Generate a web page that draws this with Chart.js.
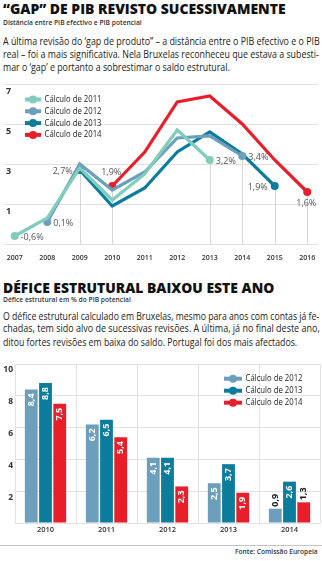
<!DOCTYPE html>
<html lang="pt">
<head>
<meta charset="utf-8">
<script src="https://cdn.jsdelivr.net/npm/chart.js@4.4.0/dist/chart.umd.min.js"></script>
<style>
  html, body { margin: 0; padding: 0; background: #fff; }
  body { width: 322px; height: 561px; position: relative; overflow: hidden; font-family: "Open Sans", sans-serif; color: #1a1a1a; }
  .fit { position: absolute; left: 3px; white-space: nowrap; line-height: 1; transform-origin: 0 0; }
  .title { font-weight: 800; font-size: 14.5px; color: #111; }
  .sub { font-weight: 600; font-size: 7px; color: #333; }
  .txt { font-size: 11px; color: #222; }
  .src { font-weight: 600; font-size: 7.5px; color: #333; }
  #gapWrap { position: absolute; left: 0; top: 80px; width: 322px; height: 180px; }
  #defWrap { position: absolute; left: 0; top: 356px; width: 322px; height: 184px; }
  .rule { position: absolute; left: 0; top: 545px; width: 322px; height: 1px; background: #c4c4c4; }
</style>
</head>
<body>

<div class="fit title" style="top:2.2px" data-w="283">“GAP” DE PIB REVISTO SUCESSIVAMENTE</div>
<div class="fit sub" style="top:18.8px" data-w="139">Distância entre PIB efectivo e PIB potencial</div>
<div class="fit txt" style="top:34.5px" data-w="317">A última revisão do ‘gap de produto” – a distância entre o PIB efectivo e o PIB</div>
<div class="fit txt" style="top:47.9px" data-w="316">real – foi a mais significativa. Nela Bruxelas reconheceu que estava a subesti-</div>
<div class="fit txt" style="top:61.2px" data-w="227">mar o ‘gap’ e portanto a sobrestimar o saldo estrutural.</div>

<div id="gapWrap"><canvas id="gapChart"></canvas></div>

<div class="fit title" style="top:281.2px" data-w="271">DÉFICE ESTRUTURAL BAIXOU ESTE ANO</div>
<div class="fit sub" style="top:296.4px" data-w="128">Défice estrutural em % do PIB potencial</div>
<div class="fit txt" style="top:309.5px" data-w="316">O défice estrutural calculado em Bruxelas, mesmo para anos com contas já fe-</div>
<div class="fit txt" style="top:322.2px" data-w="317">chadas, tem sido alvo de sucessivas revisões. A última, já no final deste ano,</div>
<div class="fit txt" style="top:335.5px" data-w="294">ditou fortes revisões em baixa do saldo. Portugal foi dos mais afectados.</div>

<div id="defWrap"><canvas id="defChart"></canvas></div>

<div class="rule"></div>
<div class="fit src" style="left:235px; top:548.3px" data-w="83">Fonte: Comissão Europeia</div>

<script>
// output gap, % of potential GDP, by year of the estimate
const years = [2007, 2008, 2009, 2010, 2011, 2012, 2013, 2014, 2015, 2016];
const gap2011 = [-0.6, 0.3, 2.8, 1.2, 2.5, 4.7, 3.2, null, null, null];
const gap2012 = [null, 0.1, 3.0, 1.7, 2.6, 4.3, 4.4, 3.4, null, null];
const gap2013 = [null, null, 2.7, 0.9, 1.8, 3.6, 4.6, 3.5, 1.9, null];
const gap2014 = [null, null, null, 1.9, 3.6, 6.1, 6.4, 5.0, 3.2, 1.6];
const gapTicks = [7, 5, 3, 1];
const gapNames = ['Cálculo de 2011', 'Cálculo de 2012', 'Cálculo de 2013', 'Cálculo de 2014'];

// structural deficit, % of potential GDP
const defYears = ['2010', '2011', '2012', '2013', '2014'];
const def2012 = [8.4, 6.2, 4.1, 2.5, 0.9];
const def2013 = [8.8, 6.5, 4.1, 3.7, 2.6];
const def2014 = [7.5, 5.4, 2.3, 1.9, 1.3];
const defTicks = [10, 8, 6, 4, 2];
const defNames = ['Cálculo de 2012', 'Cálculo de 2013', 'Cálculo de 2014'];

const lineColors = ['#80cdbd', '#6b9fbb', '#0c7c9c', '#e81f2a'];
const barColors = ['#6b9fbb', '#0c7c9c', '#e81f2a'];

// where the first / last value of each line gets its label
const endLabelSide = [['right', 'right'], ['right', 'right'], ['left', 'left'], ['above', 'below']];
const endDropLine = [[false, true], [false, true], [true, true], [true, true]];

const FONT = '"Open Sans", sans-serif';
Chart.defaults.font.family = FONT;
Chart.defaults.color = '#333';

const pct = v => v.toFixed(1).replace('.', ',');

function squeezeText(ctx, text, x, y, sx) {
  ctx.save();
  ctx.translate(x, y);
  ctx.scale(sx, 1);
  ctx.fillText(text, 0, 0);
  ctx.restore();
}

// legend drawn inside the plot: thick line with a dot, then the name
const cornerLegend = {
  id: 'cornerLegend',
  afterDraw(chart, args, opts) {
    const { ctx, chartArea } = chart;
    const x0 = opts.fromRight ? chartArea.right - opts.x : chartArea.left + opts.x;
    const y0 = chartArea.top + opts.y;
    ctx.save();
    ctx.font = '9px ' + FONT;
    ctx.textBaseline = 'middle';
    ctx.textAlign = 'left';
    opts.names.forEach((name, i) => {
      const y = y0 + i * opts.step;
      const c = opts.colors[i];
      ctx.strokeStyle = c;
      ctx.lineWidth = 4;
      ctx.beginPath();
      ctx.moveTo(x0, y);
      ctx.lineTo(x0 + opts.w, y);
      ctx.stroke();
      ctx.fillStyle = c;
      ctx.beginPath();
      ctx.arc(x0 + opts.w / 2, y, 4, 0, Math.PI * 2);
      ctx.fill();
      ctx.fillStyle = '#222';
      squeezeText(ctx, name, x0 + opts.w + 3.5, y, 0.86);
    });
    ctx.restore();
  }
};

// thin drop lines under the end points, and the end values
const endMarks = {
  id: 'endMarks',
  beforeDatasetsDraw(chart) {
    const { ctx, chartArea } = chart;
    ctx.save();
    ctx.strokeStyle = '#d6d6d6';
    ctx.lineWidth = 1;
    chart.data.datasets.forEach((ds, i) => {
      const pts = chart.getDatasetMeta(i).data;
      [0, pts.length - 1].forEach((k, e) => {
        if (!endDropLine[i][e]) return;
        const x = Math.round(pts[k].x) + 0.5;
        ctx.beginPath();
        ctx.moveTo(x, pts[k].y);
        ctx.lineTo(x, chartArea.bottom);
        ctx.stroke();
      });
    });
    ctx.restore();
  },
  afterDatasetsDraw(chart) {
    const { ctx } = chart;
    ctx.save();
    ctx.font = '9px ' + FONT;
    ctx.fillStyle = '#555';
    ctx.textBaseline = 'middle';
    chart.data.datasets.forEach((ds, i) => {
      const pts = chart.getDatasetMeta(i).data;
      [0, pts.length - 1].forEach((k, e) => {
        const p = pts[k];
        const text = pct(ds.data[k].y) + '%';
        const side = endLabelSide[i][e];
        if (side === 'right') { ctx.textAlign = 'left'; ctx.fillText(text, p.x + 6, p.y + 1); }
        else if (side === 'left') { ctx.textAlign = 'right'; ctx.fillText(text, p.x - 7, p.y + 1); }
        else if (side === 'above') { ctx.textAlign = 'center'; ctx.fillText(text, p.x - 1, p.y - 14); }
        else { ctx.textAlign = 'center'; ctx.fillText(text, p.x - 1, p.y + 11); }
      });
    });
    ctx.restore();
  }
};

// bar values written vertically, inside the bar top when there is room
const barValues = {
  id: 'barValues',
  afterDatasetsDraw(chart) {
    const { ctx } = chart;
    ctx.save();
    ctx.font = 'bold 9px ' + FONT;
    ctx.textBaseline = 'middle';
    chart.data.datasets.forEach((ds, i) => {
      chart.getDatasetMeta(i).data.forEach((bar, k) => {
        const text = pct(ds.data[k]);
        const tw = ctx.measureText(text).width;
        const h = bar.base - bar.y;
        ctx.save();
        if (h > tw + 8) {
          ctx.translate(bar.x, bar.y + 4);
          ctx.rotate(-Math.PI / 2);
          ctx.textAlign = 'right';
          ctx.fillStyle = '#fff';
        } else {
          ctx.translate(bar.x, bar.y - 2);
          ctx.rotate(-Math.PI / 2);
          ctx.textAlign = 'left';
          ctx.fillStyle = '#222';
        }
        ctx.fillText(text, 0, 0);
        ctx.restore();
      });
    });
    ctx.restore();
  }
};

const toPoints = vals => years.map((x, i) => ({ x, y: vals[i] })).filter(p => p.y !== null);
const isEnd = c => c.dataIndex === 0 || c.dataIndex === c.dataset.data.length - 1;

new Chart(document.getElementById('gapChart'), {
  type: 'line',
  data: {
    datasets: [gap2011, gap2012, gap2013, gap2014].map((vals, i) => ({
      label: gapNames[i],
      data: toPoints(vals),
      borderColor: lineColors[i],
      backgroundColor: lineColors[i],
      borderWidth: 3.2,
      tension: 0,
      pointRadius: c => isEnd(c) ? 4 : 0,
      pointBorderWidth: 0,
      pointHoverRadius: 0
    }))
  },
  options: {
    responsive: true,
    maintainAspectRatio: false,
    animation: false,
    events: [],
    layout: { padding: { top: 4, left: 0, right: 0, bottom: 0 } },
    plugins: {
      legend: { display: false },
      tooltip: { enabled: false },
      cornerLegend: { names: gapNames, colors: lineColors, x: 21, y: 15.5, step: 11.8, w: 16 }
    },
    scales: {
      x: {
        type: 'linear',
        min: 2006.67,
        max: 2016.33,
        grid: { display: false },
        border: { display: false },
        ticks: {
          stepSize: 1,
          includeBounds: false,
          autoSkip: false,
          maxRotation: 0,
          padding: 2,
          font: { size: 7, weight: '600' },
          color: '#333',
          callback: v => String(v)
        },
        afterFit(s) { s.height = 16; s.paddingLeft = 0; s.paddingRight = 0; }
      },
      y: {
        min: -1,
        max: 7,
        grid: { color: '#e2e2e2', drawTicks: false },
        border: { display: false },
        ticks: {
          stepSize: 2,
          mirror: true,
          padding: 2,
          labelOffset: 7,
          font: { size: 9, weight: 'bold' },
          color: '#333',
          callback: v => gapTicks.includes(v) ? String(v) : ''
        },
        afterFit(s) { s.width = 0; s.paddingTop = 0; s.paddingBottom = 0; }
      }
    }
  },
  plugins: [endMarks, cornerLegend]
});

new Chart(document.getElementById('defChart'), {
  type: 'bar',
  data: {
    labels: defYears,
    datasets: [def2012, def2013, def2014].map((vals, i) => ({
      label: defNames[i],
      data: vals,
      backgroundColor: barColors[i],
      borderWidth: 0,
      categoryPercentage: 0.7,
      barPercentage: 0.9
    }))
  },
  options: {
    responsive: true,
    maintainAspectRatio: false,
    animation: false,
    events: [],
    layout: { padding: { top: 8, left: 0, right: 2, bottom: 0 } },
    plugins: {
      legend: { display: false },
      tooltip: { enabled: false },
      cornerLegend: { names: defNames, colors: barColors, x: 96, y: 14.7, step: 12, w: 18, fromRight: true }
    },
    scales: {
      x: {
        grid: { color: '#e2e2e2', drawTicks: false },
        border: { display: false },
        ticks: { padding: 2, font: { size: 7.5, weight: '600' }, color: '#333', maxRotation: 0 },
        afterFit(s) { s.height = 17; s.paddingLeft = 0; s.paddingRight = 0; }
      },
      y: {
        min: 0,
        max: 10,
        grid: { color: '#e2e2e2', drawTicks: false },
        border: { display: false },
        ticks: {
          stepSize: 2,
          padding: 2,
          labelOffset: 6,
          font: { size: 8.5, weight: 'bold' },
          color: '#333',
          callback: v => defTicks.includes(v) ? String(v) : ''
        },
        afterFit(s) { s.width = 15; s.paddingTop = 0; s.paddingBottom = 0; }
      }
    }
  },
  plugins: [barValues, cornerLegend]
});

// squeeze each text line to its column width
function fitLines() {
  document.querySelectorAll('.fit').forEach(el => {
    el.style.transform = 'none';
    const w = parseFloat(el.dataset.w);
    el.style.transform = 'scaleX(' + (w / el.offsetWidth) + ')';
  });
}
fitLines();
if (document.fonts) document.fonts.ready.then(fitLines);
</script>
</body>
</html>
